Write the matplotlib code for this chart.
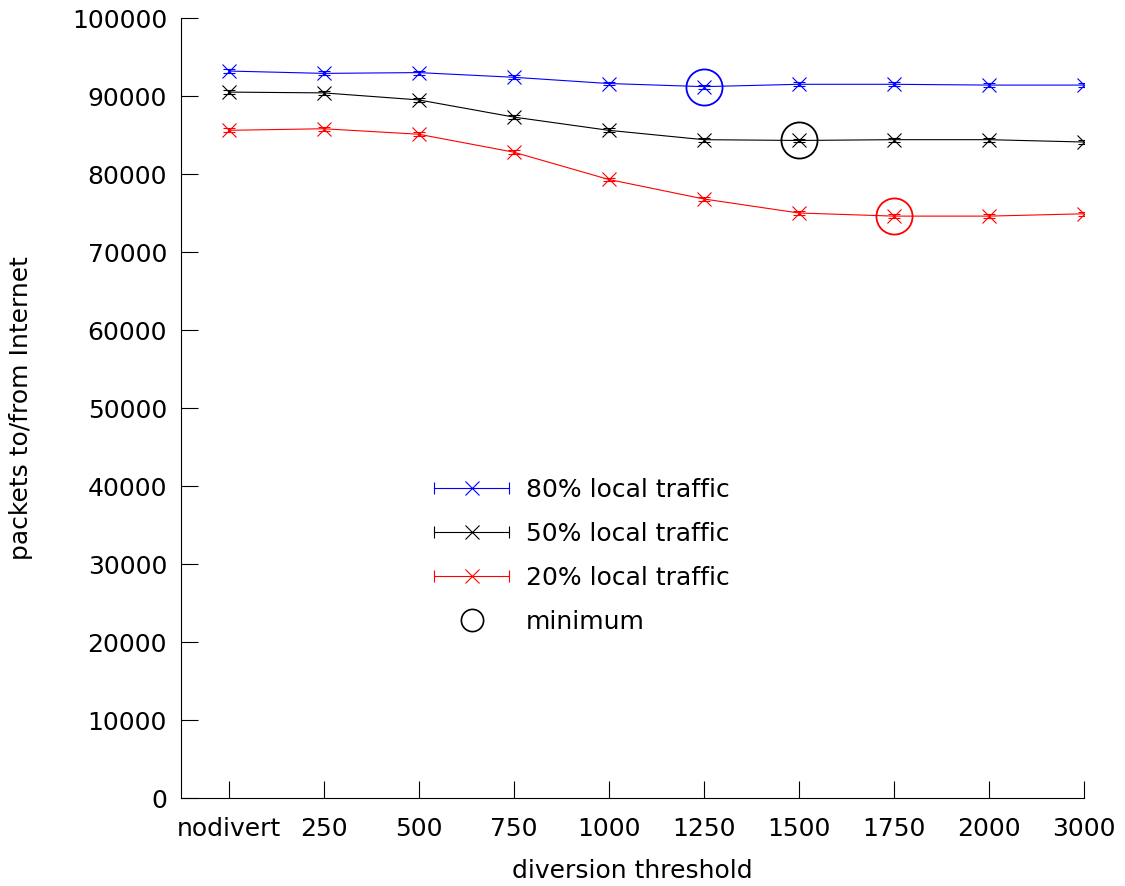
import matplotlib
matplotlib.use("Agg")
import matplotlib.pyplot as plt
from matplotlib.lines import Line2D
from matplotlib.legend_handler import HandlerBase

thresholds = ['nodivert', '250', '500', '750', '1000', '1250', '1500', '1750', '2000', '3000']

local80 = [93200, 92900, 93000, 92400, 91600, 91200, 91500, 91500, 91400, 91400]
local50 = [90500, 90400, 89500, 87300, 85600, 84400, 84300, 84400, 84400, 84100]
local20 = [85600, 85800, 85100, 82800, 79300, 76800, 75000, 74600, 74600, 74900]
err = 250

# index of the minimum threshold for each series
min80 = 5
min50 = 6
min20 = 7

series = [
    ('80% local traffic', local80, '#0000ff', min80),
    ('50% local traffic', local50, 'black', min50),
    ('20% local traffic', local20, '#ff0000', min20),
]


class ErrKeyHandler(HandlerBase):
    # key sample: line with end caps and an x in the middle
    def create_artists(self, legend, orig_handle, xdescent, ydescent,
                       width, height, fontsize, trans):
        c = orig_handle.get_color()
        y = height / 2 - ydescent
        x0 = -xdescent
        x1 = -xdescent + width
        line = Line2D([x0, x1], [y, y], color=c, lw=0.8, transform=trans)
        caps = Line2D([x0, x1], [y, y], color=c, ls='none', marker='|',
                      markersize=9, mew=0.8, transform=trans)
        mark = Line2D([(x0 + x1) / 2], [y], color=c, ls='none', marker='x',
                      markersize=10, mew=0.8, transform=trans)
        return [line, caps, mark]


plt.rcParams['font.family'] = 'DejaVu Sans'
fs = 18

fig = plt.figure(figsize=(11.25, 8.86), dpi=100)
ax = fig.add_axes([181 / 1125, 1 - 798 / 886, (1084 - 181) / 1125, (798 - 18) / 886])

x = list(range(len(thresholds)))
handles = []
for label, vals, col, imin in series:
    ax.errorbar(x, vals, yerr=err, color=col, lw=0.8, marker='x', markersize=10,
                mew=0.8, capsize=4, elinewidth=0.8, capthick=0.8)
    ax.plot([x[imin]], [vals[imin]], ls='none', marker='o', markersize=26,
            mfc='none', mec=col, mew=1.3)
    handles.append(Line2D([], [], color=col, label=label))

circ = Line2D([], [], ls='none', marker='o', markersize=16, mfc='none',
              mec='black', mew=1.2, label='minimum')

hmap = {h: ErrKeyHandler() for h in handles}
ax.legend(handles=handles + [circ], handler_map=hmap, loc='upper left',
          bbox_to_anchor=(434 / 1125, 1 - 478 / 886), bbox_transform=fig.transFigure,
          frameon=False, fontsize=fs, handlelength=3.0, handletextpad=0.68,
          labelspacing=0.8, borderpad=0, borderaxespad=0)

ax.set_xlim(-0.5, 9)
ax.set_ylim(0, 100000)
ax.set_xticks(x)
ax.set_xticklabels(thresholds)
ax.set_yticks(range(0, 100001, 10000))
ax.tick_params(direction='in', length=12, width=0.8, labelsize=fs, pad=10)
ax.tick_params(axis='x', pad=14)
for s in ['top', 'right']:
    ax.spines[s].set_visible(False)
for s in ['left', 'bottom']:
    ax.spines[s].set_linewidth(0.8)

ax.set_xlabel('diversion threshold', fontsize=fs, labelpad=13)
ax.set_ylabel('packets to/from Internet', fontsize=fs, labelpad=28)

fig.savefig('out.png', dpi=100)
